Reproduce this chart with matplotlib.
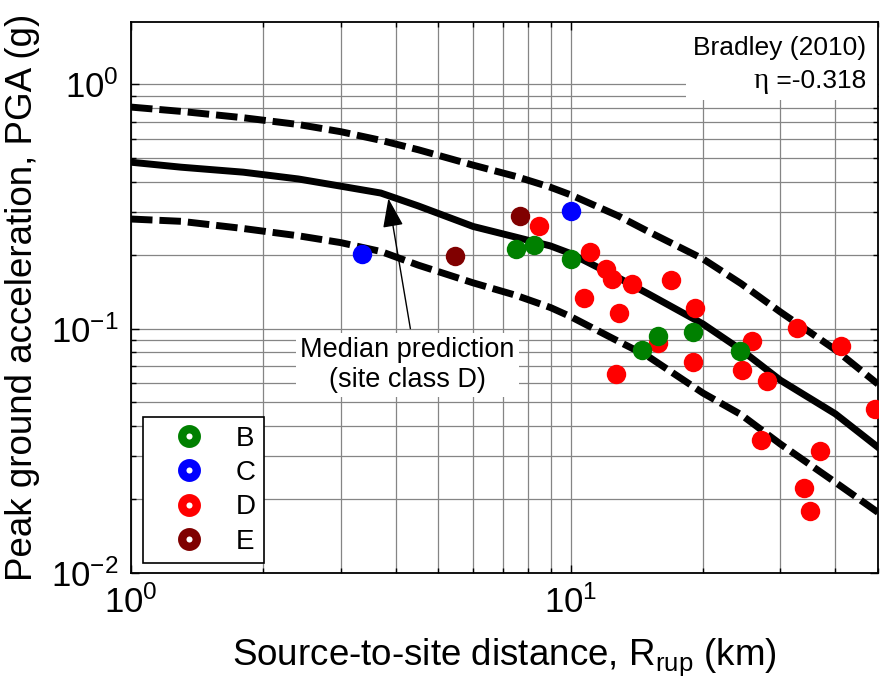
import numpy as np
import matplotlib
matplotlib.use('Agg')
import matplotlib.pyplot as plt
from matplotlib.lines import Line2D
from matplotlib.patches import Rectangle
from matplotlib.ticker import LogLocator, NullFormatter

plt.rcParams['font.family'] = ['Liberation Sans', 'DejaVu Sans']
plt.rcParams['mathtext.fontset'] = 'custom'
plt.rcParams['mathtext.rm'] = 'Liberation Sans'
plt.rcParams['mathtext.it'] = 'Liberation Sans:italic'
plt.rcParams['mathtext.bf'] = 'Liberation Sans:bold'
plt.rcParams['axes.unicode_minus'] = False

# Bradley (2010) prediction, site class D (median and +/- one sigma)
dist = [1, 1.3, 1.8, 2.4, 3, 3.7, 4.5, 6, 7.5, 9, 10, 12.8, 15, 20, 24.4, 30, 40, 50]
median = [0.48, 0.458, 0.437, 0.41, 0.383, 0.359, 0.318, 0.262, 0.237, 0.218, 0.203,
          0.162, 0.139, 0.1045, 0.082, 0.0615, 0.0448, 0.0327]
upper = [0.807, 0.775, 0.73, 0.685, 0.64, 0.59, 0.54, 0.467, 0.42, 0.379, 0.353,
         0.29, 0.25, 0.193, 0.153, 0.117, 0.082, 0.0593]
lower = [0.281, 0.275, 0.257, 0.24, 0.225, 0.207, 0.182, 0.154, 0.137, 0.122, 0.112,
         0.089, 0.077, 0.0545, 0.0445, 0.0337, 0.0235, 0.0177]

# recorded PGA by site class
b_r = [7.52, 8.25, 10.0, 14.5, 15.8, 19.0, 24.3]
b_pga = [0.212, 0.219, 0.192, 0.082, 0.0936, 0.0966, 0.0807]
c_r = [3.35, 10.0]
c_pga = [0.202, 0.304]
d_r = [8.47, 11.05, 12.06, 12.4, 13.8, 10.7, 16.9, 12.9, 19.2, 32.8, 41.1,
       15.8, 25.9, 19.0, 12.7, 24.5, 27.9, 49.2, 27.1, 36.9, 34.0, 35.0]
d_pga = [0.263, 0.206, 0.176, 0.159, 0.1525, 0.134, 0.158, 0.116, 0.1216, 0.101, 0.0852,
         0.087, 0.0893, 0.0732, 0.0652, 0.0677, 0.061, 0.047, 0.035, 0.0316, 0.0222, 0.0179]
e_r = [5.47, 7.67]
e_pga = [0.198, 0.290]

classes = ['B', 'C', 'D', 'E']
colors = {'B': '#008000', 'C': '#0000ff', 'D': '#ff0000', 'E': '#800000'}

fig = plt.figure(figsize=(8.82, 6.93), dpi=100)
ax = fig.add_axes([0.1485, 0.1732, 0.8469, 0.7951])
ax.set_xscale('log')
ax.set_yscale('log')

ax.plot(dist, median, color='black', lw=5, zorder=2)
ax.plot(dist, upper, color='black', lw=5, ls=(0, (3.1, 1.0)), zorder=2)
ax.plot(dist, lower, color='black', lw=5, ls=(0, (3.1, 1.0)), zorder=2)

ax.plot(e_r, e_pga, 'o', ms=14, mew=0, color=colors['E'], zorder=3)
ax.plot(d_r, d_pga, 'o', ms=14, mew=0, color=colors['D'], zorder=3.1)
ax.plot(b_r, b_pga, 'o', ms=14, mew=0, color=colors['B'], zorder=3.2)
ax.plot(c_r, c_pga, 'o', ms=14, mew=0, color=colors['C'], zorder=3.3)

ax.set_xlim(1, 50)
ax.set_ylim(0.01, 1.8)
for a in (ax.xaxis, ax.yaxis):
    a.set_major_locator(LogLocator(base=10))
    a.set_minor_locator(LogLocator(base=10, subs=np.arange(2, 10)))
    a.set_minor_formatter(NullFormatter())

ax.grid(True, which='both', color='#858585', lw=0.9, ls='-')
ax.tick_params(which='both', direction='in', top=True, right=True, width=1)
ax.tick_params(which='major', length=6, labelsize=25, pad=9)
ax.tick_params(which='minor', length=3.5)
for s in ax.spines.values():
    s.set_linewidth(1.3)

ax.set_xlabel('Source-to-site distance, R$_{\\mathrm{rup}}$ (km)', fontsize=26.5, labelpad=12)
ax.set_ylabel('Peak ground acceleration, PGA (g)', fontsize=26.5, labelpad=8)

# annotation box, top right
ax.add_patch(Rectangle((0.743, 0.858), 0.257, 0.142, transform=ax.transAxes,
                       facecolor='white', edgecolor='none', zorder=1.9))
ax.text(0.984, 0.953, 'Bradley (2010)', transform=ax.transAxes, ha='right', va='center',
        fontsize=19, zorder=4)
t2 = ax.text(0.984, 0.893, ' =-0.318', transform=ax.transAxes, ha='right', va='center',
             fontsize=19, zorder=4)
ax.annotate('\u03b7', xy=(0, 0.5), xycoords=t2, ha='right', va='center',
            fontsize=21, family='Liberation Serif', zorder=4)

# median label and arrow
ax.text(4.25, 0.0712, 'Median prediction\n(site class D)', ha='center', va='center',
        fontsize=19.5, linespacing=1.2, zorder=4,
        bbox=dict(facecolor='white', edgecolor='none', pad=3))
ax.annotate('', xy=(3.85, 0.341), xytext=(4.32, 0.1),
            arrowprops=dict(arrowstyle='-|>,head_length=0.9,head_width=0.32',
                            mutation_scale=20, lw=1, color='black', shrinkA=0, shrinkB=0),
            zorder=2.5)

handles = [Line2D([], [], ls='none', marker='o', ms=10.5, mew=6, mfc='white',
                  mec=colors[c]) for c in classes]
leg = ax.legend(handles, classes, loc='lower left', bbox_to_anchor=(0.016, 0.018),
                borderaxespad=0, fontsize=20, frameon=True, fancybox=False,
                edgecolor='black', framealpha=1, handlelength=2.7, handletextpad=0.35,
                borderpad=0.3, labelspacing=0.3)
leg.get_frame().set_linewidth(1.2)
leg.set_zorder(5)

fig.savefig('out.png', dpi=100)
